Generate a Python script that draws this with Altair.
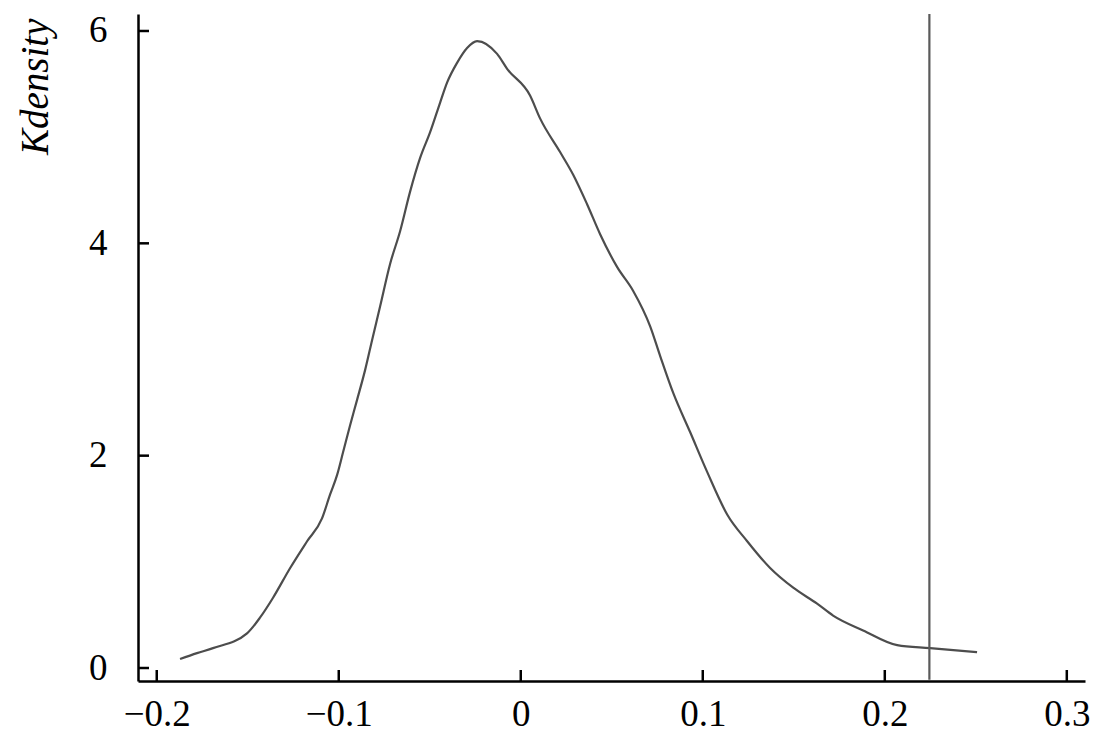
import altair as alt
import pandas as pd

# Kernel density curve
xs = [-0.1872, -0.1779, -0.1691, -0.1504, -0.1432, -0.1361, -0.1267, -0.1174, -0.1092, -0.1048,
      -0.1009, -0.0976, -0.0938, -0.0899, -0.0855, -0.0817, -0.0773, -0.0718, -0.0663, -0.0608,
      -0.0553, -0.0498, -0.0443, -0.0405, -0.0350, -0.0295, -0.0240, -0.0130, -0.0075, 0.0051,
      0.0106, 0.0216, 0.0288, 0.0365, 0.0436, 0.0529, 0.0617, 0.0711, 0.0766, 0.0837,
      0.0931, 0.1024, 0.1134, 0.1244, 0.1370, 0.1497, 0.1628, 0.1716, 0.1881, 0.2068,
      0.2249, 0.2507]
ys = [0.084, 0.140, 0.187, 0.326, 0.476, 0.662, 0.942, 1.194, 1.409, 1.632,
      1.819, 2.034, 2.285, 2.528, 2.808, 3.088, 3.405, 3.806, 4.114, 4.487,
      4.804, 5.047, 5.326, 5.513, 5.700, 5.840, 5.905, 5.784, 5.644, 5.392,
      5.177, 4.860, 4.646, 4.366, 4.086, 3.778, 3.554, 3.218, 2.938, 2.593,
      2.220, 1.847, 1.446, 1.194, 0.942, 0.756, 0.606, 0.494, 0.354, 0.215,
      0.187, 0.149]

# Vertical reference line
ref_x = [0.2245]
ref_y1 = [-0.11]
ref_y2 = [6.16]

x_ticks = [-0.2, -0.1, 0.0, 0.1, 0.2, 0.3]
y_ticks = [0, 2, 4, 6]

X_DOMAIN = [-0.2103, 0.31]
Y_DOMAIN = [-0.1224, 6.16]
W, H = 947, 667
FONT = "Liberation Serif"

curve = pd.DataFrame({"x": xs, "y": ys})
ref = pd.DataFrame({"x": ref_x, "y1": ref_y1, "y2": ref_y2})
xt = pd.DataFrame({"t": x_ticks})
yt = pd.DataFrame({"t": y_ticks})

xscale = alt.Scale(domain=X_DOMAIN, nice=False, zero=False)
yscale = alt.Scale(domain=Y_DOMAIN, nice=False, zero=False)

xaxis = alt.Axis(values=x_ticks, format=".1~f", title=None, grid=False, ticks=False,
                 labelFont=FONT, labelFontSize=37, labelColor="black", labelPadding=15,
                 domainColor="black", domainWidth=2.5, labelFlush=False)
yaxis = alt.Axis(values=y_ticks, format="d", title="Kdensity", grid=False, ticks=False,
                 labelFont=FONT, labelFontSize=37, labelColor="black", labelPadding=31,
                 domainColor="black", domainWidth=2.5, labelFlush=False,
                 titleFont=FONT, titleFontSize=39, titleFontStyle="italic",
                 titleFontWeight="normal", titleColor="black", titleAngle=-90,
                 titleX=-103, titleY=4, titleAlign="right", titleBaseline="middle")

line = alt.Chart(curve).mark_line(color="#4d4d4d", strokeWidth=2.2,
                                  interpolate="monotone").encode(
    x=alt.X("x:Q", scale=xscale, axis=xaxis),
    y=alt.Y("y:Q", scale=yscale, axis=yaxis),
)

vline = alt.Chart(ref).mark_rule(color="#5a5a5a", strokeWidth=2.2).encode(
    x=alt.X("x:Q", scale=xscale),
    y=alt.Y("y1:Q", scale=yscale),
    y2="y2:Q",
)

xtick_marks = alt.Chart(xt).mark_rule(color="black", strokeWidth=2.5).encode(
    x=alt.X("t:Q", scale=xscale),
    y=alt.value(H),
    y2=alt.value(H - 11),
)

ytick_marks = alt.Chart(yt).mark_rule(color="black", strokeWidth=2.5).encode(
    y=alt.Y("t:Q", scale=yscale),
    x=alt.value(0),
    x2=alt.value(11),
)

chart = alt.layer(line, vline, xtick_marks, ytick_marks).properties(
    width=W, height=H,
    autosize=alt.AutoSizeParams(type="none"),
    padding={"left": 130, "top": 6, "right": 5, "bottom": 52},
    background="white",
).configure_view(stroke=None)

chart.save("out.html", embed_options={"renderer": "svg", "actions": False})
